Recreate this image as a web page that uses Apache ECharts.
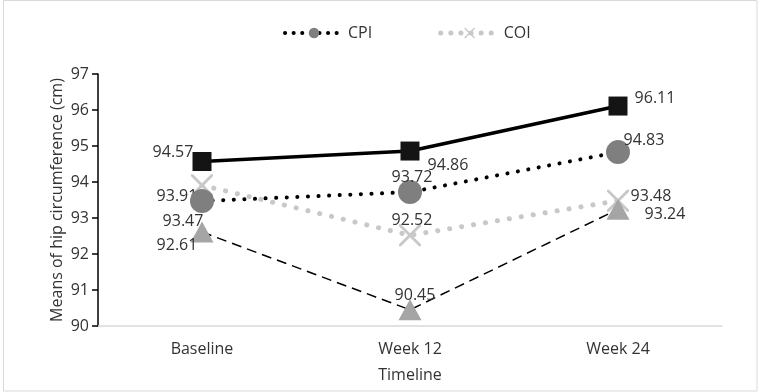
<!DOCTYPE html>
<html>
<head>
<meta charset="utf-8">
<script src="https://cdn.jsdelivr.net/npm/echarts@6/dist/echarts.min.js"></script>
<style>
  html, body { margin: 0; padding: 0; background: #fff; }
  #chart { width: 758px; height: 392px; }
</style>
</head>
<body>
<div id="chart"></div>
<script>
// Timeline categories and mean hip circumference (cm) per group
const categories = ['Baseline', 'Week 12', 'Week 24'];
const seriesSquare = [94.57, 94.86, 96.11];
const seriesCPI = [93.47, 93.72, 94.83];
const seriesCOI = [93.91, 92.52, 93.48];
const seriesTriangle = [92.61, 90.45, 93.24];
const yTicks = { min: 90, max: 97, step: 1 };

// Label placement (offset of label centre from the marker centre, px)
const offSquare = [[-29, -9], [38, 14], [37, -8]];
const offCPI = [[-19, 20], [2, -15], [26, -12]];
const offCOI = [[-25, 11], [2, -15], [33, -4]];
const offTriangle = [[-25, 13], [5, -14], [47, 5]];

const FONT = '"Open Sans", Lato, sans-serif';
const TEXT = '#333333';
const X_PATH = 'path://M0,0 L2,0 L11,9 L20,0 L22,0 L22,2 L13,11 L22,20 L22,22 L20,22 L11,13 L2,22 L0,22 L0,20 L9,11 L0,2 Z';

const cpiLine = { color: '#000000', width: 4, type: [0.1, 10.5], cap: 'round' };
const coiLine = { color: '#c8c8c8', width: 5, type: [0.1, 12], cap: 'round' };

function withLabels(values, offsets) {
  return values.map((v, i) => ({
    value: v,
    label: {
      show: true,
      position: 'inside',
      offset: offsets[i],
      color: TEXT,
      fontFamily: FONT,
      fontSize: 16,
      textBorderWidth: 0,
      formatter: (p) => p.value.toFixed(2)
    }
  }));
}

const chart = echarts.init(document.getElementById('chart'), null, { renderer: 'canvas' });

chart.setOption({
  animation: false,
  backgroundColor: '#ffffff',
  textStyle: { fontFamily: FONT },
  graphic: [{
    type: 'rect',
    shape: { x: 3.5, y: 0.5, width: 753.5, height: 390.5 },
    style: { fill: 'none', stroke: '#d9d9d9', lineWidth: 1 },
    silent: true, z: -10
  }],
  legend: {
    data: [
      { name: 'CPI', lineStyle: { width: 4, type: [0.1, 8.5], cap: 'round' } },
      { name: 'COI', lineStyle: { width: 5, type: [0.1, 10], cap: 'round' } }
    ],
    left: 278,
    top: 20,
    itemWidth: 58,
    itemHeight: 13,
    itemGap: 66,
    textStyle: { color: TEXT, fontSize: 16, fontFamily: FONT }
  },
  grid: { left: 98, right: 36, top: 74, bottom: 66 },
  xAxis: {
    type: 'category',
    data: categories,
    boundaryGap: true,
    name: 'Timeline',
    nameLocation: 'middle',
    nameGap: 41,
    nameTextStyle: { color: TEXT, fontSize: 16, fontFamily: FONT },
    axisLine: { lineStyle: { color: '#d9d9d9', width: 1.5 } },
    axisTick: { show: false },
    axisLabel: { color: TEXT, fontSize: 16, fontFamily: FONT, margin: 15 },
    splitLine: { show: false }
  },
  yAxis: {
    type: 'value',
    min: yTicks.min,
    max: yTicks.max,
    interval: yTicks.step,
    name: 'Means of hip circumference (cm)',
    nameLocation: 'middle',
    nameGap: 33,
    nameMoveOverlap: false,
    nameTextStyle: { color: TEXT, fontSize: 16, fontFamily: FONT },
    axisLine: { show: true, lineStyle: { color: '#000000', width: 1.5 } },
    axisTick: { show: true, length: 6, lineStyle: { color: '#000000', width: 1.5 } },
    axisLabel: { color: TEXT, fontSize: 16, fontFamily: FONT, margin: 9 },
    splitLine: { show: false }
  },
  series: [
    {
      name: 'Group S',
      type: 'line',
      data: withLabels(seriesSquare, offSquare),
      symbol: 'rect',
      symbolSize: 19,
      itemStyle: { color: '#141414' },
      lineStyle: { color: '#000000', width: 3.5 },
      z: 5
    },
    {
      name: 'COI',
      type: 'line',
      data: withLabels(seriesCOI, offCOI),
      symbol: X_PATH,
      symbolSize: 22,
      itemStyle: { color: '#c8c8c8' },
      lineStyle: coiLine,
      z: 3
    },
    {
      name: 'CPI',
      type: 'line',
      data: withLabels(seriesCPI, offCPI),
      symbol: 'circle',
      symbolSize: 24,
      itemStyle: { color: '#7f7f7f' },
      lineStyle: cpiLine,
      z: 4
    },
    {
      name: 'Group T',
      type: 'line',
      data: withLabels(seriesTriangle, offTriangle),
      symbol: 'triangle',
      symbolSize: [23, 21],
      itemStyle: { color: '#a5a5a5' },
      lineStyle: { color: '#000000', width: 1.5, type: [10, 6] },
      z: 4
    }
  ]
});
</script>
</body>
</html>
